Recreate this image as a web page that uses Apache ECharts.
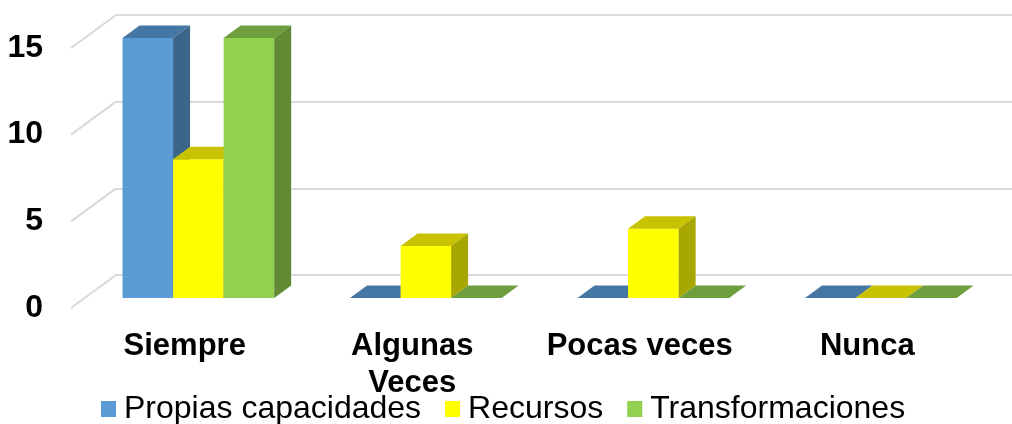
<!DOCTYPE html>
<html>
<head>
<meta charset="utf-8">
<script src="https://cdn.jsdelivr.net/npm/echarts@6/dist/echarts.min.js"></script>
<style>
  html, body { margin: 0; padding: 0; background: #fff; }
  #container { width: 1012px; height: 424px; }
</style>
</head>
<body>
<div id="container"></div>
<script>
// categories and series values
const categories = ['Siempre', 'Algunas\nVeces', 'Pocas veces', 'Nunca'];
const seriesNames = ['Propias capacidades', 'Recursos', 'Transformaciones'];
const propias = [15, 0, 0, 0];
const recursos = [8, 3, 4, 0];
const transformaciones = [15, 0, 0, 0];
const yTicks = [0, 5, 10, 15];

// colours: front / top / side
const palette = [
    { front: '#5b9bd5', top: '#4676a3', side: '#3b6589' },
    { front: '#ffff00', top: '#c8c200', side: '#a8a600' },
    { front: '#92d050', top: '#6f9e3e', side: '#628a35' }
];

const FONT = 'Liberation Sans, Arial, sans-serif';
const WALL = [45, -33];   // depth of the back wall
const SHIFT = [13.6, -10]; // where the bars sit in depth
const DEPTH = [17, -12.5]; // bar thickness

const dom = document.getElementById('container');
const myChart = echarts.init(dom);

/**
 * Draws one 3D bar (front, top and side faces)
 */
function barRenderer(idx) {
    return function (params, api) {
        const cat = api.value(0);
        const val = api.value(1);
        const band = api.size([1, 0])[0];
        const bw = band / 4.5;
        const top = api.coord([cat, val]);
        const base = api.coord([cat, 0]);
        const x0 = top[0] - 1.5 * bw + idx * bw + SHIFT[0];
        const x1 = x0 + bw;
        const yT = top[1] + SHIFT[1];
        const yB = base[1] + SHIFT[1];
        const dx = DEPTH[0], dy = DEPTH[1];
        const c = palette[idx];
        return {
            type: 'group',
            children: [{
                type: 'polygon',
                shape: { points: [[x0, yT], [x1, yT], [x1, yB], [x0, yB]] },
                style: { fill: c.front }
            }, {
                type: 'polygon',
                shape: { points: [[x0, yT], [x1, yT], [x1 + dx, yT + dy], [x0 + dx, yT + dy]] },
                style: { fill: c.top }
            }, {
                type: 'polygon',
                shape: { points: [[x1, yT], [x1 + dx, yT + dy], [x1 + dx, yB + dy], [x1, yB]] },
                style: { fill: c.side }
            }]
        };
    };
}

const allValues = [propias, recursos, transformaciones];
const series = allValues.map(function (vals, i) {
    return {
        name: seriesNames[i],
        type: 'custom',
        xAxisIndex: 0,
        yAxisIndex: 0,
        itemStyle: { color: palette[i].front },
        renderItem: barRenderer(i),
        encode: { x: 0, y: 1 },
        data: vals.map(function (v, k) { return [k, v]; }),
        z: 3
    };
});

// diagonals from the front floor edge to the back wall
series.push({
    type: 'custom',
    xAxisIndex: 1,
    yAxisIndex: 1,
    silent: true,
    z: 1,
    renderItem: function (params, api) {
        const p = api.coord([0, api.value(0)]);
        return {
            type: 'line',
            shape: { x1: p[0] - WALL[0], y1: p[1] - WALL[1], x2: p[0], y2: p[1] },
            style: { stroke: '#d9d9d9', lineWidth: 2 }
        };
    },
    encode: { y: 0 },
    data: yTicks.map(function (v) { return [v]; })
});

option = {
    backgroundColor: '#fff',
    animation: false,
    legend: {
        data: seriesNames,
        left: 96,
        top: 388,
        icon: 'rect',
        itemWidth: 15,
        itemHeight: 16,
        itemGap: 24,
        textStyle: { fontFamily: FONT, fontSize: 32, color: '#000', padding: [0, 0, 0, 3] }
    },
    grid: [{
        left: 71, width: 910, top: 48, height: 260
    }, {
        left: 116, width: 910, top: 15, height: 260
    }],
    xAxis: [{
        type: 'category',
        gridIndex: 0,
        data: categories,
        axisLine: { show: false },
        axisTick: { show: false },
        axisLabel: {
            fontFamily: FONT, fontSize: 31, fontWeight: 'bold', color: '#000',
            lineHeight: 37, margin: 20, interval: 0
        }
    }, {
        type: 'value',
        gridIndex: 1,
        min: 0, max: 1,
        show: false
    }],
    yAxis: [{
        type: 'value',
        gridIndex: 0,
        min: 0, max: 15, interval: 5,
        axisLine: { show: false },
        axisTick: { show: false },
        splitLine: { show: false },
        axisLabel: {
            fontFamily: FONT, fontSize: 32, fontWeight: 'bold', color: '#000', margin: 28
        }
    }, {
        type: 'value',
        gridIndex: 1,
        min: 0, max: 15, interval: 5,
        axisLine: { show: false },
        axisTick: { show: false },
        axisLabel: { show: false },
        splitLine: { show: true, lineStyle: { color: '#d9d9d9', width: 2 } }
    }],
    series: series
};

myChart.setOption(option);
</script>
</body>
</html>
